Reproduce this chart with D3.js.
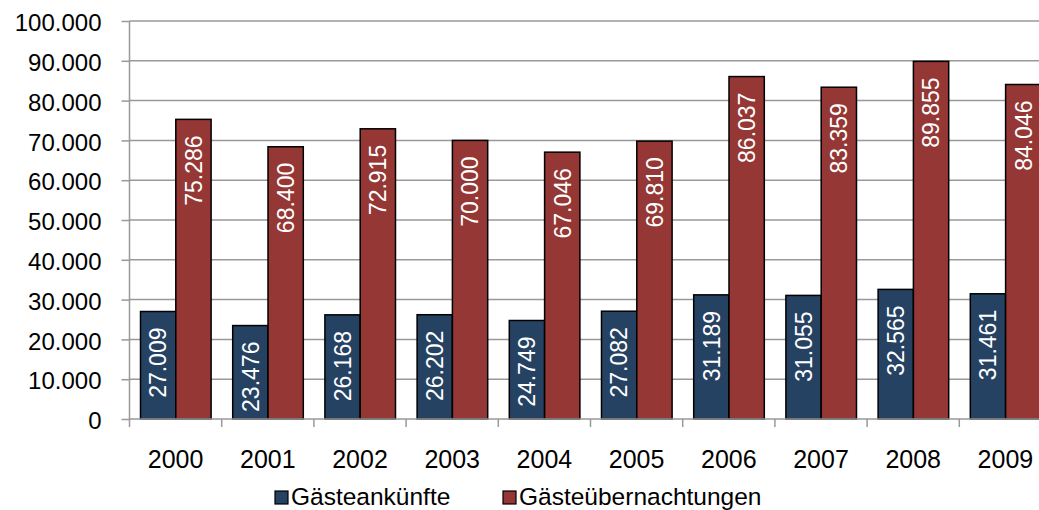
<!DOCTYPE html>
<html>
<head>
<meta charset="utf-8">
<script src="https://cdn.jsdelivr.net/npm/d3@7"></script>
<style>
  body { margin: 0; background: #fff; }
  svg { display: block; font-family: "Liberation Sans", Arial, sans-serif; }
</style>
</head>
<body>
<svg width="1039" height="510"></svg>
<script>
const YEARS = ["2000", "2001", "2002", "2003", "2004", "2005", "2006", "2007", "2008", "2009"];
const ANKUENFTE = [27009, 23476, 26168, 26202, 24749, 27082, 31189, 31055, 32565, 31461];
const UEBERNACHTUNGEN = [75286, 68400, 72915, 70000, 67046, 69810, 86037, 83359, 89855, 84046];
const SERIES_NAMES = ["Gästeankünfte", "Gästeübernachtungen"];
const Y_TICKS = [0, 10000, 20000, 30000, 40000, 50000, 60000, 70000, 80000, 90000, 100000];

const COLORS = ["#264263", "#943735"];
const PLOT_LEFT = 129.5;
const BAND = 92.2;
const PLOT_TOP = 21;
const PLOT_BOTTOM = 419;
const BAR_OFFSET = 11;
const BAR_WIDTH = 35.3;

const de = d3.formatLocale({decimal: ",", thousands: ".", grouping: [3], currency: ["", " €"]});
const fmt = de.format(",.0f");

const svg = d3.select("svg");

const xScale = d3.scaleBand().domain(YEARS).range([PLOT_LEFT, PLOT_LEFT + BAND * YEARS.length]);
const yScale = d3.scaleLinear().domain([0, 100000]).range([PLOT_BOTTOM, PLOT_TOP]);

// gridlines
svg.append("g").selectAll("line")
	.data(Y_TICKS.filter(d => d > 0))
	.enter()
	.append("line")
	.attr("x1", PLOT_LEFT)
	.attr("x2", 1039)
	.attr("y1", d => yScale(d))
	.attr("y2", d => yScale(d))
	.attr("stroke", "#999")
	.attr("stroke-width", 1.5);

// y axis
const yAxis = d3.axisLeft(yScale).tickValues(Y_TICKS).tickSize(8).tickPadding(20).tickFormat(fmt);
const yAxisArea = svg.append("g").attr("transform", "translate(" + PLOT_LEFT + ",0)").call(yAxis);
yAxisArea.selectAll("path, line").attr("stroke", "#999").attr("stroke-width", 1.5);
yAxisArea.select(".domain").attr("d", "M0," + PLOT_TOP + "V" + PLOT_BOTTOM);
yAxisArea.selectAll("text").attr("font-size", 24).attr("fill", "#000").attr("dy", "0.4em")
	.attr("font-family", "Liberation Sans, Arial, sans-serif");

// bars
const data = YEARS.map((y, i) => ({year: y, vals: [ANKUENFTE[i], UEBERNACHTUNGEN[i]]}));
const groups = svg.append("g").selectAll("g")
	.data(data)
	.enter()
	.append("g");

groups.selectAll("rect")
	.data(d => d.vals.map((v, j) => ({year: d.year, v: v, j: j})))
	.enter()
	.append("rect")
	.attr("x", d => xScale(d.year) + BAR_OFFSET + d.j * BAR_WIDTH)
	.attr("y", d => yScale(d.v))
	.attr("width", BAR_WIDTH)
	.attr("height", d => PLOT_BOTTOM - yScale(d.v))
	.attr("fill", d => COLORS[d.j])
	.attr("stroke", "#000")
	.attr("stroke-width", 1.5);

groups.selectAll("text")
	.data(d => d.vals.map((v, j) => ({year: d.year, v: v, j: j})))
	.enter()
	.append("text")
	.attr("transform", d => "translate(" + (xScale(d.year) + BAR_OFFSET + d.j * BAR_WIDTH + BAR_WIDTH / 2) + "," + (yScale(d.v) + 16) + ") rotate(-90)")
	.attr("text-anchor", "end")
	.attr("dy", "0.36em")
	.attr("font-size", 23)
	.attr("fill", "#fff")
	.text(d => fmt(d.v));

// x axis
const xAxisArea = svg.append("g").attr("transform", "translate(0," + PLOT_BOTTOM + ")");
xAxisArea.append("line")
	.attr("x1", PLOT_LEFT).attr("x2", 1039)
	.attr("stroke", "#999").attr("stroke-width", 1.5);
xAxisArea.selectAll("line.tick")
	.data(YEARS)
	.enter()
	.append("line")
	.attr("class", "tick")
	.attr("x1", d => xScale(d)).attr("x2", d => xScale(d))
	.attr("y1", 0).attr("y2", 8)
	.attr("stroke", "#999").attr("stroke-width", 1.5);
xAxisArea.selectAll("text")
	.data(YEARS)
	.enter()
	.append("text")
	.attr("x", d => xScale(d) + xScale.bandwidth() / 2)
	.attr("y", 49)
	.attr("text-anchor", "middle")
	.attr("font-size", 25)
	.text(d => d);

// legend
const legendX = [275, 503];
const legend = svg.append("g").selectAll("g")
	.data(SERIES_NAMES)
	.enter()
	.append("g")
	.attr("transform", (d, i) => "translate(" + legendX[i] + ",491)");
legend.append("rect")
	.attr("width", 13).attr("height", 13)
	.attr("fill", (d, i) => COLORS[i])
	.attr("stroke", "#000").attr("stroke-width", 1.2);
legend.append("text")
	.attr("x", 16)
	.attr("y", 13.5)
	.attr("font-size", 24.5)
	.text(d => d);
</script>
</body>
</html>
